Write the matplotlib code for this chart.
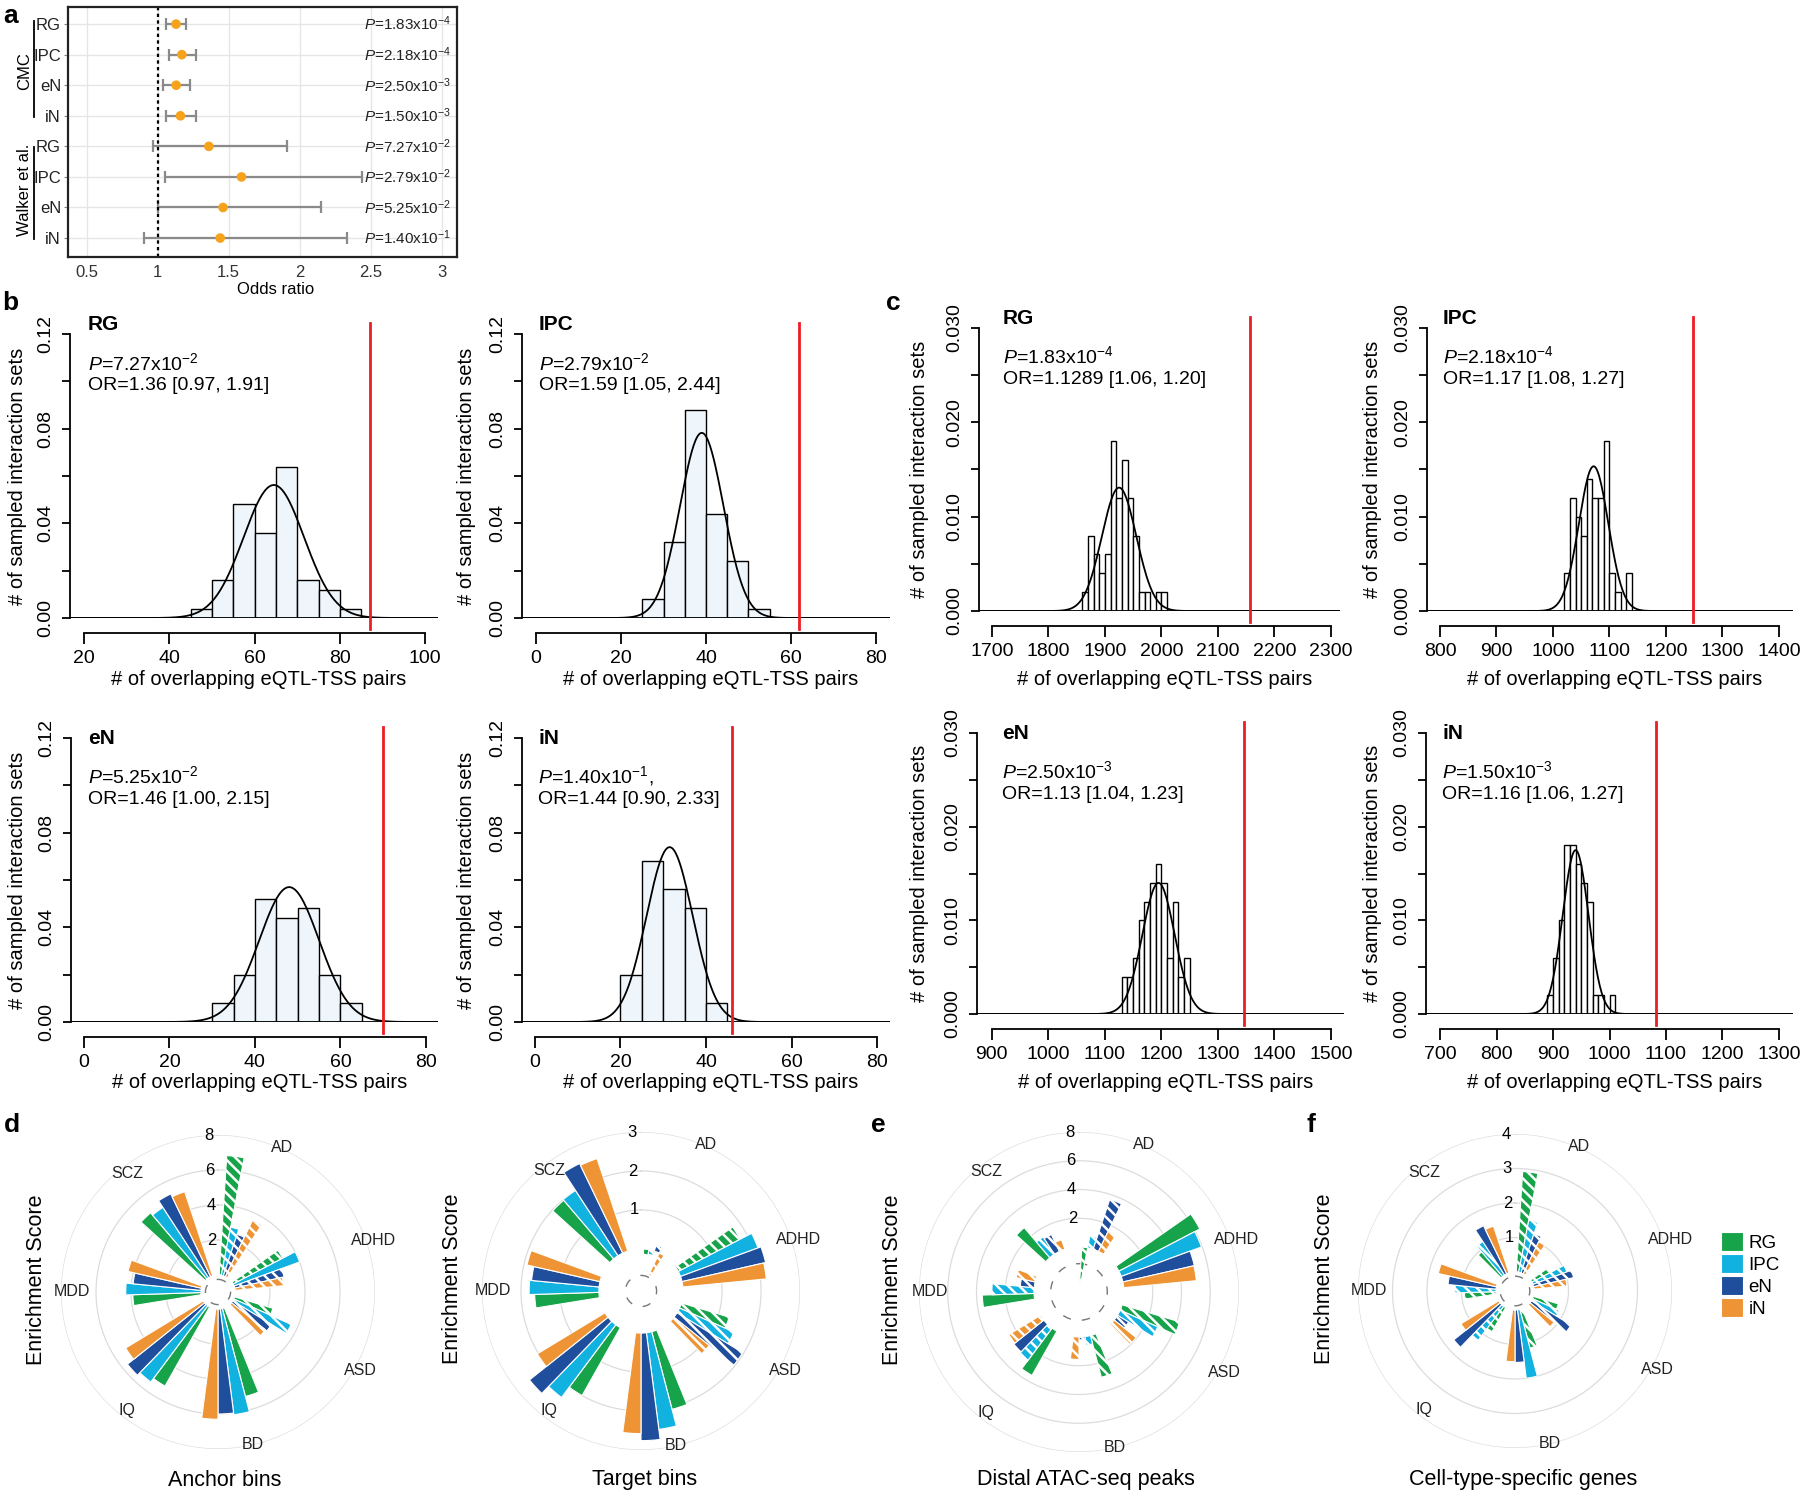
import numpy as np
import matplotlib
matplotlib.use("Agg")
import matplotlib.pyplot as plt
import matplotlib.transforms as mtransforms
from matplotlib.patches import Patch
from matplotlib.lines import Line2D

plt.rcParams['font.family'] = ['Liberation Sans', 'DejaVu Sans']
plt.rcParams['mathtext.fontset'] = 'custom'
plt.rcParams['mathtext.rm'] = 'Liberation Sans'
plt.rcParams['mathtext.it'] = 'Liberation Sans:italic'
plt.rcParams['hatch.linewidth'] = 1.8

# ---------------- data ----------------
# panel a: odds ratios
or_groups = ['CMC', 'Walker et al.']
or_cells = ['RG', 'IPC', 'eN', 'iN']
or_est = [1.1289, 1.17, 1.13, 1.16, 1.36, 1.59, 1.46, 1.44]
or_lo = [1.06, 1.08, 1.04, 1.06, 0.97, 1.05, 1.00, 0.90]
or_hi = [1.20, 1.27, 1.23, 1.27, 1.91, 2.44, 2.15, 2.33]
or_p = ['1.83x10$^{-4}$', '2.18x10$^{-4}$', '2.50x10$^{-3}$', '1.50x10$^{-3}$',
        '7.27x10$^{-2}$', '2.79x10$^{-2}$', '5.25x10$^{-2}$', '1.40x10$^{-1}$']

# panel b: Walker et al. permutation histograms
b_start = [45, 25, 30, 20]
b_width = 5
b_dens = [
    [0.004, 0.016, 0.048, 0.036, 0.064, 0.016, 0.012, 0.004],
    [0.008, 0.032, 0.088, 0.044, 0.024, 0.004],
    [0.008, 0.020, 0.052, 0.044, 0.048, 0.020, 0.008],
    [0.020, 0.068, 0.056, 0.048, 0.008],
]
b_mean = [64.5, 39.0, 48.0, 31.5]
b_sd = [7.1, 5.1, 7.0, 5.4]
b_obs = [87, 62, 70, 46]
b_ptxt = ['7.27x10$^{-2}$', '2.79x10$^{-2}$', '5.25x10$^{-2}$', '1.40x10$^{-1}$,']
b_ortxt = ['1.36 [0.97, 1.91]', '1.59 [1.05, 2.44]', '1.46 [1.00, 2.15]', '1.44 [0.90, 2.33]']

# panel c: CMC permutation histograms
c_start = [1860, 1020, 1130, 890]
c_width = 10
c_dens = [
    [0.002, 0.008, 0.006, 0.004, 0.006, 0.018, 0.012, 0.016, 0.012, 0.008,
     0.002, 0.002, 0.0, 0.002, 0.002],
    [0.004, 0.012, 0.010, 0.008, 0.014, 0.012, 0.012, 0.018, 0.004, 0.002, 0.0, 0.004],
    [0.004, 0.004, 0.006, 0.010, 0.012, 0.014, 0.016, 0.014, 0.006, 0.012, 0.004, 0.006],
    [0.002, 0.006, 0.010, 0.018, 0.018, 0.016, 0.014, 0.012, 0.002, 0.002, 0.0, 0.002],
]
c_mean = [1925, 1072, 1195, 940]
c_sd = [30.5, 26.0, 28.5, 22.8]
c_obs = [2157, 1248, 1346, 1082]
c_ptxt = ['1.83x10$^{-4}$', '2.18x10$^{-4}$', '2.50x10$^{-3}$', '1.50x10$^{-3}$']
c_ortxt = ['1.1289 [1.06, 1.20]', '1.17 [1.08, 1.27]', '1.13 [1.04, 1.23]', '1.16 [1.06, 1.27]']

# panels d-f: enrichment scores (rows = disorders, cols = RG, IPC, eN, iN)
disorders = ['AD', 'ADHD', 'ASD', 'BD', 'IQ', 'MDD', 'SCZ']
cell_types = ['RG', 'IPC', 'eN', 'iN']
cell_colors = ['#17a34a', '#12b2e0', '#1f4e9c', '#ee9434']

anchor_vals = [[6.84, 2.8, 2.5, 3.6], [3.2, 4.0, 2.9, 2.8], [2.3, 3.6, 2.6, 2.5],
               [5.2, 6.1, 6.0, 6.3], [5.2, 5.45, 5.65, 5.2], [3.9, 4.3, 3.9, 4.3],
               [4.97, 4.8, 5.25, 5.07]]
anchor_sig = [[0, 0, 0, 0], [0, 1, 0, 0], [0, 0, 0, 0], [1, 1, 1, 1], [1, 1, 1, 1],
              [1, 1, 1, 1], [1, 1, 1, 1]]

target_vals = [[-0.14, -0.12, 0.16, -0.63], [1.79, 2.12, 2.2, 2.15], [1.28, 1.53, 1.97, 1.16],
               [2.06, 2.5, 2.76, 2.58], [2.0, 2.33, 2.58, 2.03], [1.65, 1.79, 1.74, 1.92],
               [1.98, 2.0, 2.55, 2.5]]
target_sig = [[0, 0, 0, 0], [0, 1, 1, 1], [0, 0, 0, 0], [1, 1, 1, 1], [1, 1, 1, 1],
              [1, 1, 1, 1], [1, 1, 1, 1]]

atac_vals = [[-2.7, 0.85, 3.67, 1.56], [6.35, 5.95, 5.1, 5.07], [4.17, 2.86, 0.9, 1.96],
             [3.0, 0.6, 0.2, 1.56], [3.53, 2.9, 2.67, 2.58], [3.6, 2.93, 0.98, 1.35],
             [2.75, 1.44, 1.3, 0.7]]
atac_sig = [[0, 0, 0, 0], [1, 1, 1, 1], [0, 0, 0, 0], [0, 0, 0, 0], [1, 0, 1, 0],
            [1, 0, 0, 0], [1, 0, 0, 0]]

gene_vals = [[2.92, 1.54, 1.2, 1.03], [0.6, 1.05, 1.19, 0.96], [0.76, 0.85, 1.35, 0.9],
             [1.16, 2.0, 1.52, 1.5], [0.8, 1.23, 1.72, 1.28], [0.92, 1.19, 1.4, 1.73],
             [0.94, 1.16, 1.55, 1.43]]
gene_sig = [[0, 0, 0, 0], [0, 0, 0, 0], [0, 0, 0, 0], [0, 1, 1, 1], [0, 0, 1, 1],
            [0, 0, 1, 1], [0, 0, 1, 1]]

# ---------------- figure ----------------
W, H = 1800, 1497
fig = plt.figure(figsize=(W / 100, H / 100), dpi=100)


def box(x0, y0, x1, y1, **kw):
    return fig.add_axes([x0 / W, 1 - y1 / H, (x1 - x0) / W, (y1 - y0) / H], **kw)


def ftext(x, y, s, **kw):
    kw.setdefault('ha', 'center')
    kw.setdefault('va', 'center')
    return fig.text(x / W, 1 - y / H, s, **kw)


def fline(x0, y0, x1, y1, **kw):
    fig.add_artist(Line2D([x0 / W, x1 / W], [1 - y0 / H, 1 - y1 / H],
                          transform=fig.transFigure, **kw))


# panel letters
for lab, x, y in [('a', 11, 16), ('b', 10, 303), ('c', 893, 303),
                  ('d', 12, 1125), ('e', 878, 1125), ('f', 1311, 1125)]:
    ftext(x, y, lab, fontsize=19, fontweight='bold')

# ---------------- panel a ----------------
axa = box(68, 7, 457, 257)
rows = np.arange(1, len(or_est) + 1)
est = np.array(or_est)
err = [est - np.array(or_lo), np.array(or_hi) - est]
axa.errorbar(est, rows, xerr=err, fmt='none', ecolor='#8a8a8a', elinewidth=1.6,
             capsize=4, capthick=1.6, zorder=2)
axa.scatter(est, rows, color='#f7a21b', s=48, zorder=3, edgecolors='none')
axa.axvline(1, color='black', ls=(0, (1.5, 1.5)), lw=1.6, zorder=2)
axa.set_xlim(0.368, 3.108)
axa.set_ylim(8.62, 0.44)
axa.set_xticks([0.5, 1, 1.5, 2, 2.5, 3])
axa.set_xticklabels(['0.5', '1', '1.5', '2', '2.5', '3'])
axa.set_yticks(rows)
axa.set_yticklabels(or_cells * 2)
axa.grid(color='#e6e6e6', lw=1.0, zorder=0)
axa.set_axisbelow(True)
axa.tick_params(axis='x', length=0, labelsize=12, pad=6, colors='#333333')
axa.tick_params(axis='y', length=3, labelsize=12, pad=2, color='#888888', labelcolor='#222222')
for s in axa.spines.values():
    s.set_linewidth(1.6)
    s.set_color('#222222')
for r, p in zip(rows, or_p):
    axa.text(0.985, r, r'$\mathit{P}$=' + p, transform=axa.get_yaxis_transform(),
             ha='right', va='center', fontsize=11, color='#222222')
ftext(276, 289, 'Odds ratio', fontsize=12)
ftext(25, 71, or_groups[0], rotation=90, fontsize=12)
ftext(25, 190, or_groups[1], rotation=90, fontsize=12)
fline(34, 21, 34, 117, color='black', lw=1.3)
fline(34, 147, 34, 239, color='black', lw=1.3)


# ---------------- panels b, c ----------------
def hist_panel(bx, xlim, xticks, ymax, ystep, ylab_every, fmt, start, width, dens,
               mean, sd, obs, cell, ptxt, ortxt, fill, title_xy, ylab_x, xlab_y):
    x0, y0, x1, y1 = bx
    ax = box(x0, y0, x1, y1)
    edges = start + width * np.arange(len(dens))
    ax.bar(edges, dens, width=width, align='edge', color=fill, edgecolor='black',
           lw=1.0, zorder=2)
    xs = np.linspace(xlim[0], xlim[1], 400)
    ax.plot(xs, np.exp(-0.5 * ((xs - mean) / sd) ** 2) / (sd * np.sqrt(2 * np.pi)),
            color='black', lw=1.3, zorder=3)
    ax.axhline(0, color='black', lw=1.3, zorder=3)
    pad = ymax * 11 / (y1 - y0)
    ax.plot([obs, obs], [-pad, ymax + pad], color='#ee1c25', lw=2.0, clip_on=False, zorder=4)
    ax.set_xlim(*xlim)
    ax.set_ylim(0, ymax)
    for s in ['top', 'right']:
        ax.spines[s].set_visible(False)
    ax.spines['left'].set_bounds(0, ymax)
    ax.spines['bottom'].set_position(('outward', 11))
    ax.spines['bottom'].set_bounds(xticks[0], xticks[-1])
    for s in ['left', 'bottom']:
        ax.spines[s].set_linewidth(1.3)
    ax.set_xticks(xticks)
    yt = np.arange(0, ymax + ystep / 2, ystep)
    ax.set_yticks(yt)
    ax.set_yticklabels([fmt.format(v) if i % ylab_every == 0 else '' for i, v in enumerate(yt)])
    ax.tick_params(axis='x', length=8, width=1.3, labelsize=14, pad=4)
    ax.tick_params(axis='y', length=6, width=1.3, labelsize=14, pad=5, labelrotation=90)
    for t in ax.get_yticklabels():
        t.set_va('center')
    ax.patch.set_alpha(0)
    tx, ty = title_xy
    ftext(tx, ty, cell, ha='left', fontsize=15, fontweight='bold')
    ftext(tx, ty + 38, r'$\mathit{P}$=' + ptxt, ha='left', fontsize=14)
    ftext(tx, ty + 61, 'OR=' + ortxt, ha='left', fontsize=14)
    ftext(ylab_x, (y0 + y1) / 2, '# of sampled interaction sets', rotation=90, fontsize=14.5)
    ftext((x0 + x1) / 2 + 5, xlab_y, '# of overlapping eQTL-TSS pairs', fontsize=14.5)
    return ax


b_boxes = [(70, 334, 438, 618), (522, 334, 890, 618), (71, 738, 438, 1022), (522, 738, 890, 1022)]
b_xlims = [(16.7, 103.0), (-3.3, 83.3), (-3.0, 82.8), (-3.0, 83.0)]
b_xticks = [[20, 40, 60, 80, 100], [0, 20, 40, 60, 80], [0, 20, 40, 60, 80], [0, 20, 40, 60, 80]]
b_titles = [(88, 325), (539, 325), (88, 738), (538, 738)]
b_ylabx = [18, 467, 18, 466]
b_xlaby = [679, 679, 1083, 1083]
for k in range(4):
    hist_panel(b_boxes[k], b_xlims[k], b_xticks[k], 0.12, 0.02, 2, '{:.2f}',
               b_start[k], b_width, b_dens[k], b_mean[k], b_sd[k], b_obs[k],
               or_cells[k], b_ptxt[k], b_ortxt[k], '#eff6fb', b_titles[k], b_ylabx[k], b_xlaby[k])

c_boxes = [(979, 328, 1340, 611), (1427, 328, 1793, 611), (977, 733, 1344, 1014), (1426, 733, 1793, 1014)]
c_xlims = [(1677, 2316), (777, 1425), (874, 1523), (675, 1325)]
c_xticks = [list(range(1700, 2301, 100)), list(range(800, 1401, 100)),
            list(range(900, 1501, 100)), list(range(700, 1301, 100))]
c_titles = [(1003, 318), (1443, 318), (1002, 733), (1442, 733)]
c_ylabx = [920, 1372, 920, 1373]
c_xlaby = [679, 679, 1083, 1083]
for k in range(4):
    hist_panel(c_boxes[k], c_xlims[k], c_xticks[k], 0.030, 0.005, 2, '{:.3f}',
               c_start[k], c_width, c_dens[k], c_mean[k], c_sd[k], c_obs[k],
               or_cells[k], c_ptxt[k], c_ortxt[k], 'white', c_titles[k], c_ylabx[k], c_xlaby[k])


# ---------------- panels d-f ----------------
def rose(cx, cy, R, vals, sig, rmin, rmax, rticks, dash_r, ylab_x, title, title_x):
    ax = fig.add_axes([(cx - R) / W, 1 - (cy + R) / H, 2 * R / W, 2 * R / H], projection='polar')
    ax.set_theta_zero_location('N')
    ax.set_theta_direction(-1)
    ax.set_ylim(rmin, rmax)
    ax.grid(False)
    ax.set_xticks([])
    ax.set_yticks([])
    ax.spines['polar'].set_visible(False)
    ax.patch.set_alpha(0)
    step = 2 * np.pi / (7 * len(disorders))
    circ = np.linspace(0, 2 * np.pi, 300)
    for t in rticks:
        ax.plot(circ, np.full_like(circ, t), color='#dcdcdc', lw=0.9, zorder=1)
        ax.text(np.deg2rad(-1.5), t, str(t), ha='right', va='center', fontsize=12, zorder=5)
    ax.plot(circ, np.full_like(circ, dash_r), color='#777777', lw=1.0,
            ls=(0, (6, 8)), zorder=1)
    for g in range(len(disorders)):
        for i in range(len(cell_types)):
            th = (7 * g + 1 + i) * step
            solid = sig[g][i] == 1
            ax.bar(th, vals[g][i], width=step, bottom=0, color=cell_colors[i],
                   edgecolor='white', lw=0.8, hatch=None if solid else '\\\\\\', zorder=3)
    lab_angles = np.deg2rad(np.linspace(20.8, 320, len(disorders)))
    shift = mtransforms.offset_copy(ax.transData, fig=fig, x=9, y=0, units='dots')
    for a, d in zip(lab_angles, disorders):
        ax.text(a, rmax - 0.013 * (rmax - rmin), d, ha='center', va='center',
                fontsize=11.5, color='#222222', clip_on=False, transform=shift)
    ftext(ylab_x, cy - 12, 'Enrichment Score', rotation=90, fontsize=15.5)
    ftext(title_x, 1480, title, fontsize=15.5)
    return ax


rose(218, 1292, 157, anchor_vals, anchor_sig, -0.97, 8, [2, 4, 6, 8], -0.25, 37, 'Anchor bins', 225)
rose(641, 1291, 159, target_vals, target_sig, -1.08, 3, [1, 2, 3], -0.68, 452, 'Target bins', 645)
rose(1079, 1292, 160, atac_vals, atac_sig, -3.13, 8, [2, 4, 6, 8], -1.16, 893, 'Distal ATAC-seq peaks', 1086)
rose(1515, 1291, 157, gene_vals, gene_sig, -0.55, 4, [1, 2, 3, 4], -0.12, 1325, 'Cell-type-specific genes', 1523)

handles = [Patch(facecolor=c, edgecolor='white', lw=0.8) for c in cell_colors]
fig.legend(handles, cell_types, loc='center left', bbox_to_anchor=(1712 / W, 1 - 1275 / H),
           frameon=False, fontsize=13.5, handlelength=1.15, handleheight=1.15,
           labelspacing=0.12, handletextpad=0.3, borderpad=0)

fig.savefig('out.png', dpi=100)
